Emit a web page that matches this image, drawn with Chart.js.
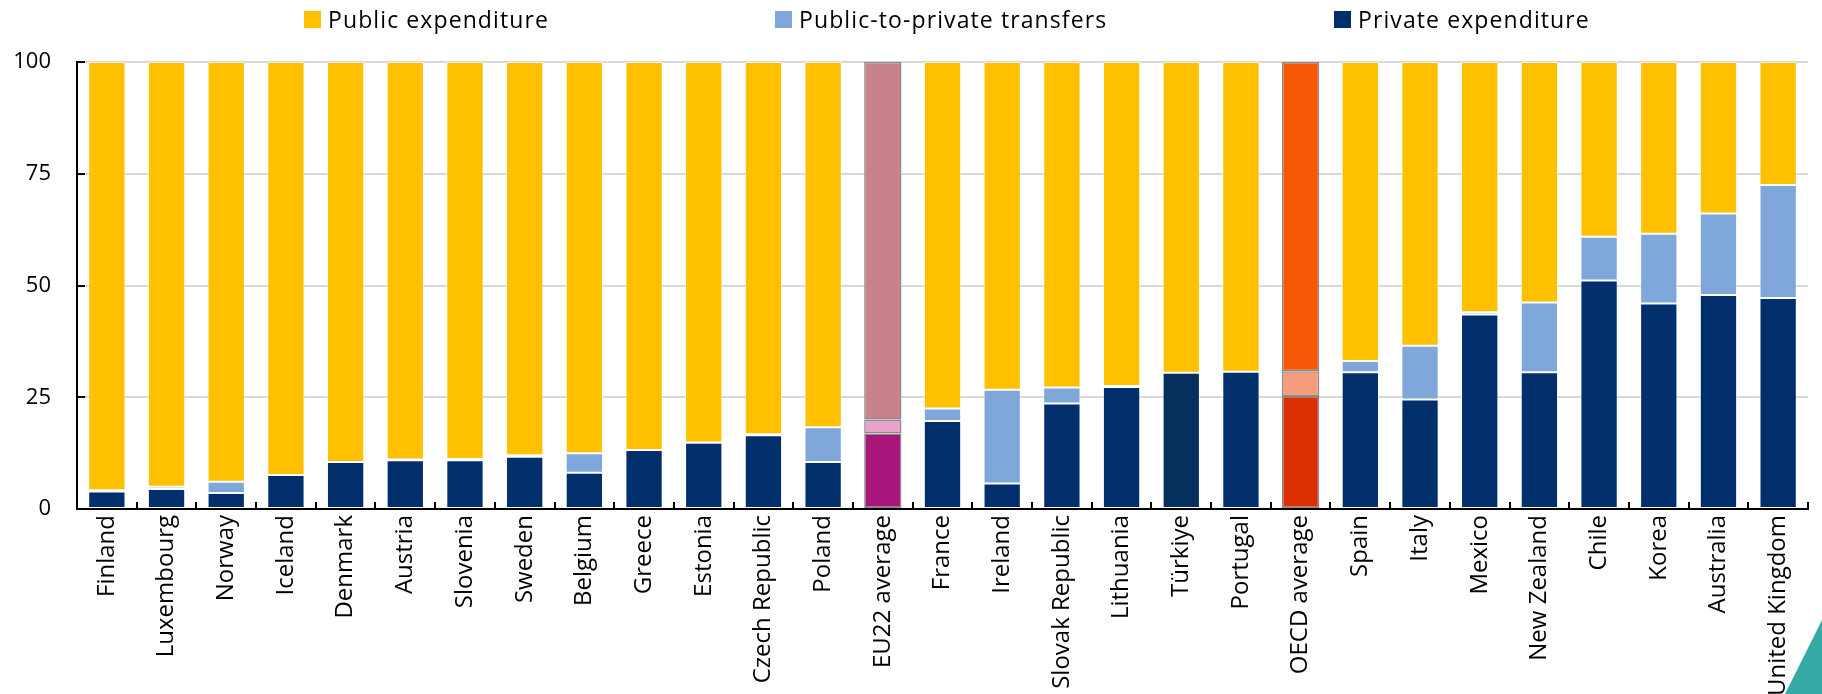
<!DOCTYPE html>
<html>
<head>
<meta charset="utf-8">
<script src="https://cdn.jsdelivr.net/npm/chart.js@4.4.1/dist/chart.umd.min.js"></script>
<style>
  html, body { margin: 0; padding: 0; background: #fff; }
  #wrap { position: relative; width: 1822px; height: 694px; overflow: hidden; }
  #chart { position: absolute; left: 0; top: 0; }
  .key { position: absolute; top: 4px; height: 30px; display: flex; align-items: center;
         font-family: "Open Sans", "Noto Sans", sans-serif; font-size: 23px; letter-spacing: 1.1px; color: #000; }
  .key i { display: inline-block; width: 17px; height: 17px; margin-right: 7px; }
  #corner { position: absolute; right: 0; bottom: 0; width: 37px; height: 74px;
            background: #36aaa5; clip-path: polygon(100% 0, 100% 100%, 0 100%); }
</style>
</head>
<body>
<div id="wrap">
  <canvas id="chart" width="1822" height="694"></canvas>
  <div class="key" style="left:304px"><i style="background:#ffc000"></i>Public expenditure</div>
  <div class="key" style="left:775px"><i style="background:#7fa7d9"></i>Public-to-private transfers</div>
  <div class="key" style="left:1334px"><i style="background:#002f6c"></i>Private expenditure</div>
  <div id="corner"></div>
</div>
<script>
const countries = [
  'Finland', 'Luxembourg', 'Norway', 'Iceland', 'Denmark', 'Austria', 'Slovenia',
  'Sweden', 'Belgium', 'Greece', 'Estonia', 'Czech Republic', 'Poland', 'EU22 average',
  'France', 'Ireland', 'Slovak Republic', 'Lithuania', 'Türkiye', 'Portugal',
  'OECD average', 'Spain', 'Italy', 'Mexico', 'New Zealand', 'Chile', 'Korea',
  'Australia', 'United Kingdom',
];

// share of spending, % (private at the bottom, then transfers, then public)
const privateExp = [
  3.9, 4.5, 3.6, 7.6, 10.5, 10.9, 10.9, 11.7, 8.1, 13.2, 14.8, 16.5, 10.5, 16.9,
  19.7, 5.7, 23.6, 27.3, 30.5, 30.7, 25.3, 30.6, 24.5, 43.5, 30.6, 51.1, 46.0,
  47.9, 47.2,
];
const transfers = [
  0.3, 0.5, 2.5, 0, 0, 0.2, 0.3, 0.3, 4.4, 0, 0.1, 0.2, 7.8, 3.1,
  2.8, 21.0, 3.6, 0.2, 0, 0, 5.5, 2.5, 12.0, 0.5, 15.6, 9.8, 15.6,
  18.2, 25.3,
];
const publicExp = privateExp.map((p, i) => +(100 - p - transfers[i]).toFixed(1));

const yTicks = [0, 25, 50, 75, 100];

const FONT = '"Open Sans", "Noto Sans", sans-serif';

const COL = {
  public: '#ffc000',
  transfer: '#7fa7d9',
  private: '#002f6c',
};
// averages get their own palette
const HIGHLIGHT = {
  'EU22 average': { public: '#c8828b', transfer: '#e9a3c9', private: '#a9157a' },
  'OECD average': { public: '#f45805', transfer: '#f59a7b', private: '#dc2f02' },
};
const SPECIAL = { 'Türkiye': { private: '#05305e' } };

function colorsFor(key) {
  return countries.map((c) => {
    if (HIGHLIGHT[c]) return HIGHLIGHT[c][key];
    if (SPECIAL[c] && SPECIAL[c][key]) return SPECIAL[c][key];
    return COL[key];
  });
}
function bordersFor() {
  return countries.map((c) => (HIGHLIGHT[c] ? '#8a8a8a' : 'rgba(255,255,255,0.55)'));
}

function makeSeries(label, data, key) {
  return {
    label,
    data,
    backgroundColor: colorsFor(key),
    borderColor: bordersFor(),
    borderWidth: countries.map((c) => (HIGHLIGHT[c] ? 1.5 : 1)),
    borderSkipped: false,
    barPercentage: 0.625,
    categoryPercentage: 1,
  };
}

// Small inward tick marks on both axes
Chart.register({
  id: 'innerTicks',
  afterDatasetsDraw(chart) {
    const { ctx, chartArea: a, scales } = chart;
    ctx.save();
    ctx.strokeStyle = '#000';
    ctx.lineWidth = 2;
    ctx.beginPath();
    yTicks.forEach((v) => {
      const y = Math.round(scales.y.getPixelForValue(v));
      ctx.moveTo(a.left, y);
      ctx.lineTo(a.left + 8, y);
    });
    const n = countries.length;
    for (let i = 0; i <= n; i++) {
      const x = Math.round(scales.x.getPixelForValue(i - 0.5));
      ctx.moveTo(x, a.bottom);
      ctx.lineTo(x, a.bottom - 7);
    }
    ctx.stroke();
    ctx.restore();
  },
});

new Chart(document.getElementById('chart'), {
  type: 'bar',
  data: {
    labels: countries,
    datasets: [
      makeSeries('Private expenditure', privateExp, 'private'),
      makeSeries('Public-to-private transfers', transfers, 'transfer'),
      makeSeries('Public expenditure', publicExp, 'public'),
    ],
  },
  options: {
    responsive: false,
    animation: false,
    layout: { padding: { top: 62, right: 14, left: 0, bottom: 0 } },
    plugins: { legend: { display: false }, tooltip: { enabled: false } },
    scales: {
      x: {
        stacked: true,
        offset: true,
        grid: { display: false, drawTicks: false },
        border: { display: true, color: '#000', width: 2 },
        ticks: {
          autoSkip: false,
          maxRotation: 90,
          minRotation: 90,
          padding: 6,
          color: '#000',
          font: { family: FONT, size: 24 },
        },
        afterFit: (s) => { s.height = 185; },
      },
      y: {
        stacked: true,
        min: 0,
        max: 100,
        afterBuildTicks: (s) => { s.ticks = yTicks.map((v) => ({ value: v })); },
        grid: { color: '#d9d9d9', lineWidth: 2, drawTicks: false },
        border: { display: true, color: '#000', width: 2 },
        ticks: {
          padding: 26,
          color: '#000',
          font: { family: FONT, size: 22 },
        },
        afterFit: (s) => { s.width = 77; },
      },
    },
  },
});
</script>
</body>
</html>
